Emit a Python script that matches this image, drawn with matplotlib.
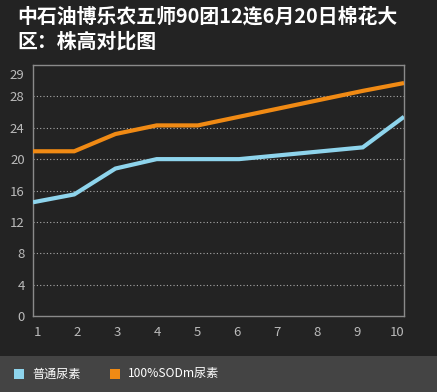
import matplotlib.pyplot as plt
import matplotlib.transforms as mtransforms
from matplotlib.patches import Rectangle

plt.rcParams['font.family'] = ['Noto Sans CJK SC', 'DejaVu Sans']

title = "中石油博乐农五师90团12连6月20日棉花大\n区：株高对比图"
x = [1, 2, 3, 4, 5, 6, 7, 8, 9, 10]
normal = [14.5, 15.5, 18.8, 20.0, 20.0, 20.0, 20.5, 21.0, 21.5, 25.4]
sodm = [21.0, 21.0, 23.2, 24.3, 24.3, 25.4, 26.5, 27.6, 28.7, 29.7]
names = ["普通尿素", "100%SODm尿素"]
colors = ["#8ed4ec", "#f08a14"]
ytick_vals = [0, 4, 8, 12, 16, 20, 24, 28, 30.8]
ytick_labels = ["0", "4", "8", "12", "16", "20", "24", "28", "29"]

bg = "#232323"
fig = plt.figure(figsize=(4.37, 3.92), dpi=100, facecolor=bg)
ax = fig.add_axes([33 / 437, 76 / 392, 371 / 437, 251 / 392], facecolor=bg)

ax.plot(x, normal, color=colors[0], lw=3, solid_capstyle='butt', solid_joinstyle='miter', zorder=3)
ax.plot(x, sodm, color=colors[1], lw=3, solid_capstyle='butt', solid_joinstyle='miter', zorder=3)

ax.set_xlim(1, 10)
ax.set_ylim(0, 32)
ax.set_xticks(x)
ax.set_xticklabels([str(v) for v in x])
ax.set_yticks(ytick_vals)
ax.set_yticklabels(ytick_labels)
ax.tick_params(colors="#bbbbbb", labelsize=9.5, length=0, pad=6)
ax.tick_params(axis='x', pad=7)
# labels sit in a slightly narrower band than the plot area
n = len(x)
for i, lab in enumerate(ax.get_xticklabels()):
    dx = (4 - 11 * i / (n - 1)) / 100
    lab.set_transform(lab.get_transform() + mtransforms.ScaledTranslation(dx, 0, fig.dpi_scale_trans))
for v in ytick_vals[1:-1]:
    ax.axhline(v, color="#aaaaaa", lw=0.8, ls=(0, (1, 2)), zorder=1)
for s in ax.spines.values():
    s.set_color("#8a8a8a")
    s.set_linewidth(1)

fig.text(17 / 437, 1 - 6 / 392, title, color="white", fontsize=14.3, fontweight='bold',
         va='top', ha='left', linespacing=1.2)

# legend strip
fig.patches.append(Rectangle((0, 0), 1, 36 / 392, transform=fig.transFigure,
                             facecolor="#444444", edgecolor='none', zorder=0))
ly = 18 / 392
fig.patches.append(Rectangle((14 / 437, 13 / 392), 10 / 437, 10 / 392, transform=fig.transFigure,
                             facecolor=colors[0], edgecolor='none'))
fig.text(32 / 437, ly, names[0], color="white", fontsize=8.7, va='center', ha='left')
fig.patches.append(Rectangle((110 / 437, 13 / 392), 10 / 437, 10 / 392, transform=fig.transFigure,
                             facecolor=colors[1], edgecolor='none'))
fig.text(128 / 437, ly, names[1], color="white", fontsize=8.7, va='center', ha='left')

fig.savefig("out.png", dpi=100, facecolor=bg)
